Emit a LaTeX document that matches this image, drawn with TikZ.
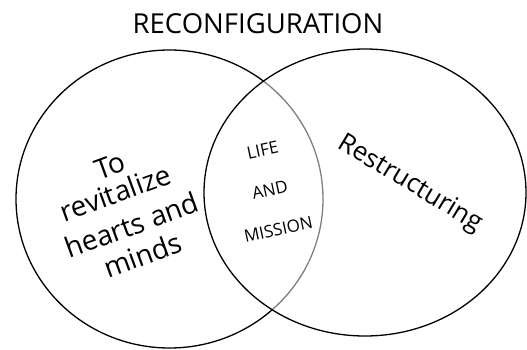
\documentclass[tikz,border=0pt]{standalone}
\usepackage{graphicx}
\usepackage{fontspec}
\setmainfont{Open Sans}
\begin{document}
\begin{tikzpicture}[x=1pt, y=1pt,
    ring/.style={line width=1.3pt},
    hand/.style={font=\fontsize{28}{33}\selectfont, inner sep=0pt},
    caps/.style={font=\fontsize{17}{20}\selectfont, inner sep=0pt}]
  \useasboundingbox[fill=white] (0, 0) rectangle (527, 349);
  % left circle: black outside the right one, grey inside it
  \begin{scope}[even odd rule]
    \clip (0, 0) rectangle (527, 349)
      (365, 156.5) ellipse [x radius=161pt, y radius=143.5pt];
    \draw[ring] (169.5, 150) ellipse [x radius=153.5pt, y radius=149pt];
  \end{scope}
  \begin{scope}
    \clip (365, 156.5) ellipse [x radius=161pt, y radius=143.5pt];
    \draw[ring, black!50] (169.5, 150) ellipse [x radius=153.5pt, y radius=149pt];
  \end{scope}
  \draw[ring] (365, 156.5) ellipse [x radius=161pt, y radius=143.5pt];
  \node[font=\fontsize{27.5}{30}\selectfont, inner sep=0pt] (title) at (258, 325.5) {RECONFIGURATION};
  \node[hand] (to) at (110, 183) {\rotatebox{20}{To}};
  \node[hand] (revitalize) at (115.4, 156.4) {\rotatebox{20}{revitalize}};
  \node[hand] (hearts) at (131.5, 124) {\rotatebox{20}{hearts and}};
  \node[hand] (minds) at (142.4, 94) {\rotatebox{20}{minds}};
  \node[caps] (life) at (262.6, 198.8) {\rotatebox{12}{LIFE}};
  \node[caps] (and) at (270, 159) {\rotatebox{12}{AND}};
  \node[caps] (mission) at (278.4, 119.4) {\rotatebox{12}{MISSION}};
  \node[hand, font=\fontsize{26}{30}\selectfont, rotate=-31] (restruct) at (410, 165) {Restructuring};
\end{tikzpicture}
\end{document}
